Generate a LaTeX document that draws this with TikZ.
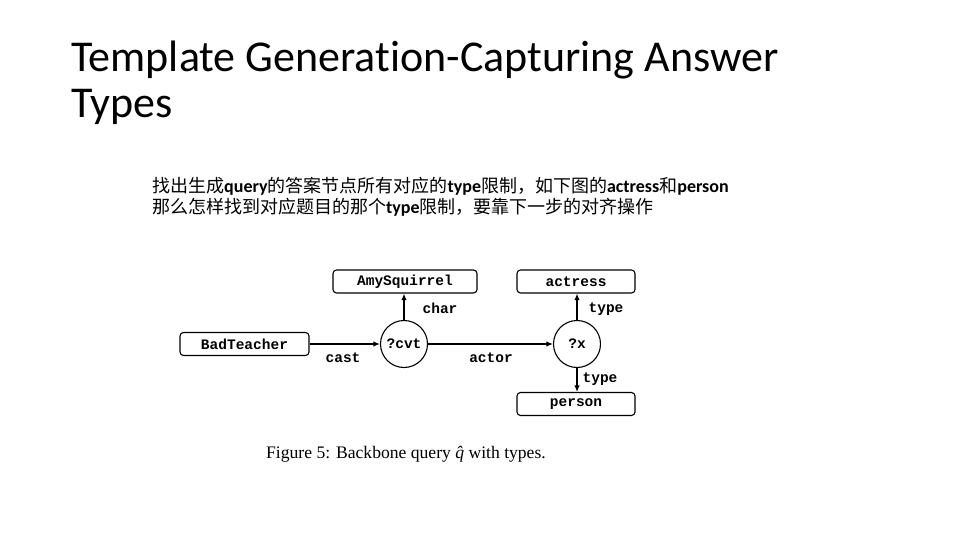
\documentclass[tikz,border=0pt]{standalone}
\usepackage{fontspec}
\setmainfont{Liberation Serif}
\newfontfamily\titlefont{Carlito}[Ligatures=NoCommon]
\newfontfamily\cjkfont{Noto Sans CJK SC}
\newfontfamily\latbold{Carlito}[BoldFont={Carlito Bold}]
\newfontfamily\monofont{Liberation Mono}
\usetikzlibrary{arrows.meta}
\begin{document}
\begin{tikzpicture}[x=1pt,y=-1pt,
  ent/.style={draw, line width=1.1pt, rounded corners=3.5pt, minimum width=144pt, minimum height=23pt, inner sep=0pt, font=\monofont\bfseries\fontsize{14.5}{16}\selectfont},
  var/.style={draw, circle, line width=1.1pt, minimum size=47pt, inner sep=0pt, font=\monofont\bfseries\fontsize{14.5}{16}\selectfont},
  lab/.style={font=\monofont\bfseries\fontsize{14.5}{16}\selectfont, inner sep=0pt},
  edge/.style={line width=1.3pt, -{Latex[length=6.5pt,width=5.5pt]}}]
\useasboundingbox[fill=white] (0,0) rectangle (960,540);
% title
\node[anchor=base west, inner sep=0pt, font=\titlefont\fontsize{44}{46}\selectfont] (title) at (71,72) {Template Generation-Capturing Answer};
\node[anchor=base west, inner sep=0pt, font=\titlefont\fontsize{44}{46}\selectfont] (title2) at (71,118) {Types};
% chinese text
\node[anchor=base west, inner sep=0pt, font=\fontsize{18}{21}\selectfont] (l1) at (152,193) {\cjkfont 找出生成{\latbold\bfseries query}的答案节点所有对应的{\latbold\bfseries type}限制，如下图的{\latbold\bfseries actress}和{\latbold\bfseries person}};
\node[anchor=base west, inner sep=0pt, font=\fontsize{18}{21}\selectfont] (l2) at (152,213) {\cjkfont 那么怎样找到对应题目的那个{\latbold\bfseries type}限制，要靠下一步的对齐操作};
% diagram
\node[ent, minimum width=144pt] (amy) at (405,281.5) {AmySquirrel};
\node[ent, minimum width=118pt] (actress) at (576,281.5) {actress};
\node[ent, minimum width=129pt] (bad) at (244.5,344) {BadTeacher};
\node[ent, minimum width=118pt] (person) at (576,404) {person};
\node[var] (cvt) at (404,344) {?cvt};
\node[var] (x) at (577,344) {?x};
\draw[edge] (bad.east) -- (cvt.west);
\draw[edge] (cvt.east) -- (x.west);
\draw[edge] (cvt.north) -- (cvt.north |- amy.south);
\draw[edge] (x.north) -- (x.north |- actress.south);
\draw[edge] (x.south) -- (x.south |- person.north);
\node[lab] (char) at (440,308) {char};
\node[lab] (cast) at (343,358) {cast};
\node[lab] (actor) at (491,358) {actor};
\node[lab] (t1) at (606,309) {type};
\node[lab] (t2) at (600,379) {type};
% caption
\node[anchor=base west, inner sep=0pt, font=\fontsize{17.6}{19}\selectfont] (cap) at (266,458) {Figure 5: Backbone query {\itshape\^{q}} with types.};
\end{tikzpicture}
\end{document}
